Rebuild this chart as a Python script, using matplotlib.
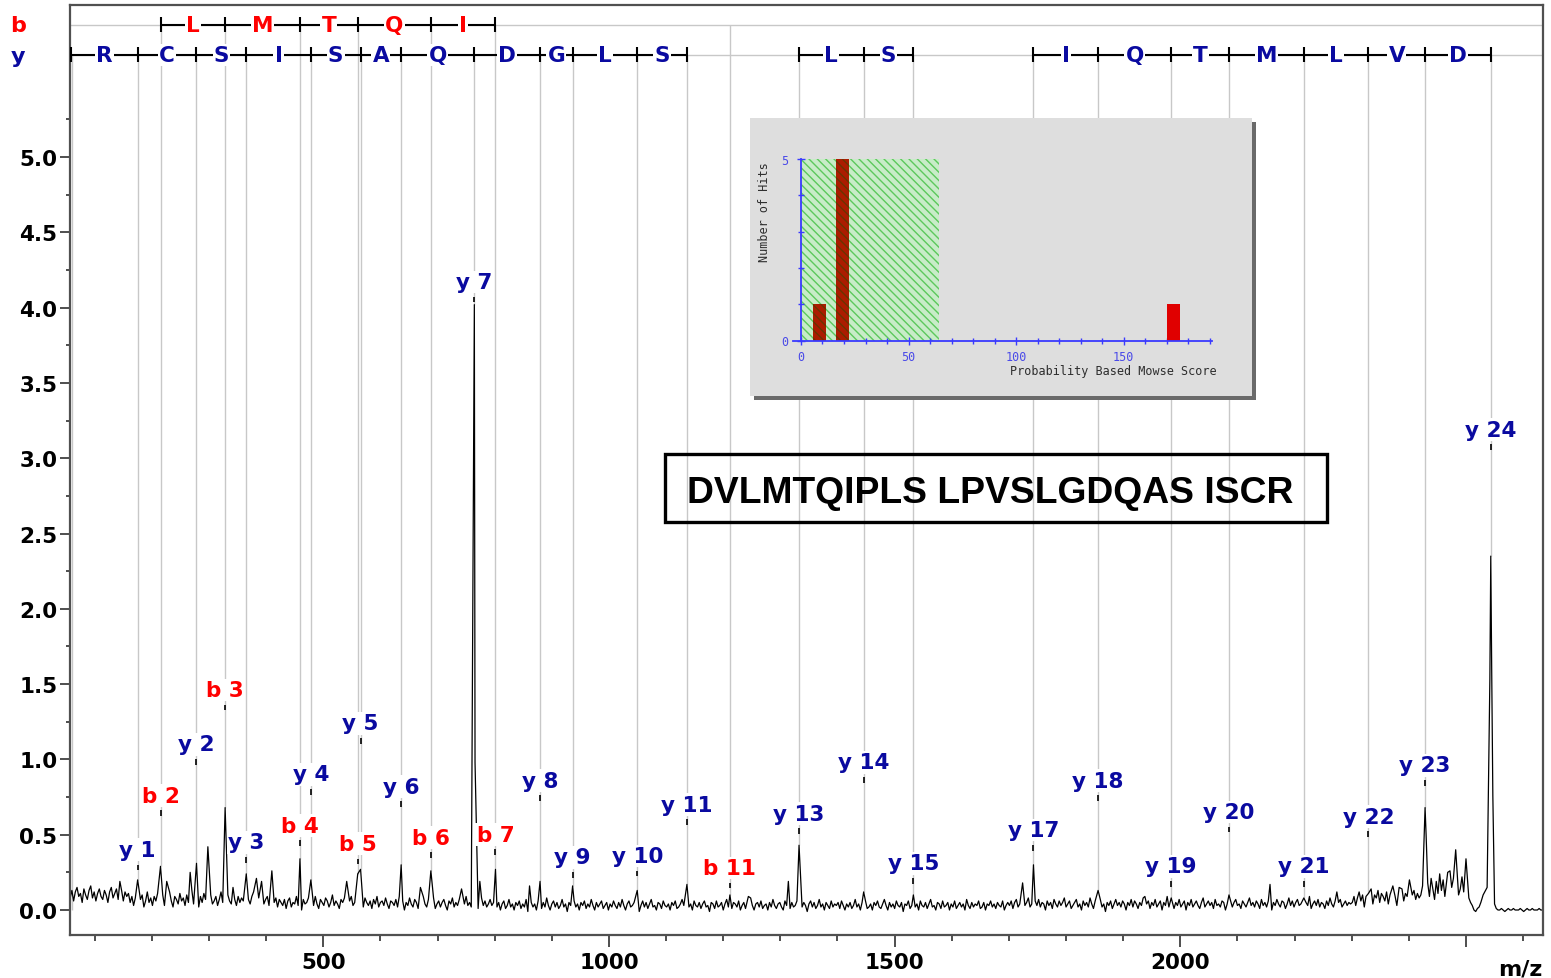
import numpy as np
import matplotlib
matplotlib.use("Agg")
import matplotlib.pyplot as plt
import matplotlib.transforms as mtransforms
from matplotlib.patches import Rectangle
from matplotlib.ticker import MultipleLocator, FixedLocator

plt.rcParams['font.family'] = ['DejaVu Sans']
plt.rcParams['hatch.linewidth'] = 1.0

W, H = 1551, 979

sequence = "DVLMTQIPLSLPVSLGDQASISCR"
shown_sequence = "DVLMTQIPLS LPVSLGDQAS ISCR"

# matched b ions: ion number, m/z, intensity, label height
b_num = [2, 3, 4, 5, 6, 7, 11]
b_mz = [215.1, 328.2, 459.2, 560.3, 688.3, 801.4, 1211.7]
b_int = [0.29, 0.68, 0.34, 0.24, 0.26, 0.27, 0.10]
b_lab = [0.76, 1.46, 0.56, 0.44, 0.48, 0.50, 0.28]

# matched y ions
y_num = [1, 2, 3, 4, 5, 6, 7, 8, 9, 10, 11, 13, 14, 15,
         17, 18, 19, 20, 21, 22, 23, 24]
y_mz = [175.1, 278.1, 365.2, 478.3, 565.3, 636.3, 764.4, 879.4, 936.4,
        1049.5, 1136.5, 1332.7, 1445.8, 1532.8, 1743.0, 1856.1, 1984.1,
        2085.2, 2216.2, 2329.3, 2428.4, 2543.4]
y_int = [0.20, 0.31, 0.24, 0.20, 0.27, 0.30, 4.02, 0.19, 0.16, 0.13, 0.17,
         0.43, 0.12, 0.10, 0.30, 0.13, 0.08, 0.10, 0.08, 0.11, 0.68, 2.35]
y_lab = [0.40, 1.10, 0.45, 0.90, 1.24, 0.82, 4.17, 0.86, 0.35, 0.36, 0.70,
         0.64, 0.98, 0.31, 0.53, 0.86, 0.29, 0.65, 0.29, 0.62, 0.96, 3.19]

# unassigned peaks and peak shoulders
other_mz = [144, 226, 267, 298, 342, 383, 392, 410, 541, 670, 742, 774,
            861, 1244, 1314, 1724, 1938, 2157, 2274, 2372, 2383, 2401,
            2439, 2468, 2482, 2500, 2530, 2537, 765.6, 2430.2,
            2541.8, 2545.0, 2547.0, 2550.0]
other_int = [0.19, 0.19, 0.25, 0.42, 0.15, 0.21, 0.19, 0.26, 0.19, 0.15,
             0.14, 0.19, 0.16, 0.09, 0.19, 0.18, 0.09, 0.17, 0.12, 0.16,
             0.15, 0.20, 0.21, 0.25, 0.40, 0.34, 0.10, 0.15, 0.98, 0.50,
             1.53, 1.60, 0.76, 0.04]

# noise floor, intensity x100, sampled every 3 m/z from 57
base_start, base_step = 57, 3
baseline = [
    # 57-159
    8, 13, 6, 12, 15, 9, 11, 5, 14, 10, 7, 13, 16, 8, 12, 6, 11, 14,
    9, 7, 13, 10, 5, 12, 15, 8, 11, 14, 7, 10, 13, 6, 12, 9, 11,
    # 162-426
    5, 9, 3, 8, 11, 4, 7, 10, 2, 6, 12, 5, 8, 3, 9, 6, 11, 4, 7, 10,
    3, 8, 5, 12, 6, 2, 9, 7, 4, 11, 6, 8, 3, 10, 5, 7, 13, 4, 8, 6,
    2, 9, 5, 11, 7, 3, 8, 10, 4, 6, 9, 3, 7, 12, 5, 8, 2, 10, 6, 4,
    11, 7, 3, 9, 5, 8, 6, 10, 2, 7, 4, 9, 12, 5, 3, 8, 6, 11, 4, 7,
    9, 3, 6, 10, 5, 8, 2, 7, 5,
    # 429-801
    3, 7, 1, 6, 8, 2, 5, 4, 9, 3, 6, 0, 7, 4, 5, 8, 2, 6, 3, 9,
    4, 1, 7, 5, 3, 8, 6, 2, 5, 10, 3, 6, 4, 1, 7, 5, 8, 2, 4, 6,
    9, 3, 5, 0, 6, 4, 7, 2, 8, 5, 3, 6, 1, 7, 4, 9, 2, 5, 6, 3,
    8, 4, 1, 6, 5, 3, 7, 2, 9, 4, 6, 0, 5, 3, 8, 4, 2, 7, 5, 1,
    6, 3, 9, 4, 2, 7, 5, 3, 8, 1, 4, 6, 2, 5, 7, 3, 0, 6, 4, 8,
    2, 5, 3, 7, 1, 6, 4, 9, 3, 5, 2, 7, 4, 6, 1, 5, 8, 3, 6, 2,
    4, 7, 3, 5, 2,
    # 804-1698
    2, 5, 0, 4, 6, 1, 3, 7, 2, 4, 0, 5, 3, 6, 1, 4, 2, 7, -1, 3,
    5, 2, 4, 0, 6, 3, 1, 5, 2, 8, 3, 0, 4, 6, 2, 5, 1, 3, 7, 2,
    4, -1, 5, 3, 1, 6, 2, 4, 0, 5, 3, 6, 1, 4, 2, 7, 3, 0, 5, 2,
    4, 6, 1, 3, 5, 0, 4, 2, 6, 3, 1, 5, 2, 7, 3, 0, 4, 6, 2, 3,
    5, 1, 4, -1, 3, 6, 2, 5, 1, 4, 7, 2, 3, 0, 5, 4, 1, 6, 3, 2,
    4, 0, 5, 3, 6, 1, 2, 4, 7, 3, 1, 5, 2, 4, 0, 6, 3, 2, 5, 1,
    4, 6, 2, 3, -1, 5, 4, 1, 6, 2, 3, 5, 0, 4, 7, 2, 3, 1, 5, 4,
    2, 6, 0, 3, 5, 1, 4, 2, 8, 3, 0, 4, 5, 2, 6, 1, 3, 4, 0, 5,
    2, 7, 3, 1, 4, 5, 2, 0, 6, 3, 4, 1, 5, 2, 3, 6, 0, 4, 2, 5,
    3, -1, 4, 6, 2, 5, 1, 3, 7, 2, 4, 0, 5, 3, 1, 6, 2, 4, 3, 5,
    1, 6, 3, 0, 4, 2, 5, 1, 3, 7, 2, 4, 0, 5, 3, 6, 1, 2, 4, 0,
    5, 3, 6, 2, 1, 4, 7, 3, 0, 5, 2, 4, 1, 6, 3, 2, 5, -1, 4, 3,
    6, 1, 3, 5, 2, 4, 0, 6, 3, 2, 5, 1, 4, 7, 2, 3, 0, 5, 4, 1,
    6, 2, 3, 5, 0, 4, 2, 6, 1, 3, 5, 2, 4, 0, 7, 3, 1, 5, 2, 4,
    3, 6, 1, 2, 5, 0, 4, 3, 6, 2, 4, 1, 5, 3, 2, 6, 0, 3, 5,
    # 1701-2298
    3, 6, 1, 5, 7, 2, 4, 0, 6, 3, 5, 8, 2, 4, 1, 6, 3, 7, 2, 5,
    4, 0, 6, 3, 5, 1, 7, 4, 2, 6, 3, 5, 8, 2, 4, 6, 1, 3, 5, 7,
    2, 4, 0, 6, 3, 5, 2, 8, 4, 1, 6, 3, 5, 7, 2, 4, -1, 5, 3, 6,
    1, 4, 7, 3, 5, 2, 6, 4, 0, 5, 3, 7, 2, 6, 4, 1, 5, 3, 8, 2,
    4, 6, 1, 5, 3, 7, 2, 4, 6, 0, 5, 3, 9, 2, 4, 6, 1, 5, 3, 7,
    2, 4, 6, 0, 5, 3, 7, 2, 4, 6, 3, 1, 5, 8, 2, 4, 6, 3, 5, 1,
    7, 3, 4, 2, 6, 5, 0, 4, 3, 6, 2, 5, 7, 3, 4, 1, 6, 4, 2, 5,
    8, 3, 5, 2, 6, 4, 1, 7, 3, 5, 2, 6, 4, 0, 5, 3, 7, 4, 2, 6,
    5, 1, 4, 8, 3, 6, 2, 5, 7, 3, 4, 6, 2, 5, 3, 9, 1, 4, 6, 3,
    7, 2, 5, 4, 1, 6, 3, 8, 4, 2, 6, 3, 5, 7, 2, 4, 6, 3, 5, 4,
    # 2301-2418
    5, 9, 3, 8, 12, 6, 10, 2, 9, 11, 7, 14, 4, 10, 8, 13, 5, 11, 9, 6,
    12, 4, 10, 15, 7, 9, 3, 12, 8, 14, 6, 11, 9, 16, 5, 10, 13, 7, 11, 8,
    # 2421-2508
    10, 16, 8, 12, 18, 9, 22, 14, 7, 19, 11, 24, 13, 20, 9, 17, 12, 26,
    15, 21, 28, 16, 10, 14, 22, 12, 25, 18, 8, 5,
    # 2511-2550
    3, 0, -1, 1, 2, 5, 4, 8, 10, 14, 30, 40, 20, 6,
    # 2553-2637
    1, 0, 0, 1, 0, -1, 0, 1, 0, 0, 1, 0, 0, 0, 1, 0, -1, 0, 1, 0,
    0, 1, 0, 0, 0, 1, 0, 0, 1,
]

# Mowse score histogram
hit_score = [8.5, 19.4, 173.3]
hit_count = [1, 5, 1]
threshold = 64

x_min, x_max = 56.7, 2634.8
y_lo, y_hi = -0.166, 6.01
b_row, y_row = 5.88, 5.68

red = '#ff0000'
blue = '#0a0aa0'
grey = '#c8c8c8'


def fx(px):
    return px / W


def fy(py):
    return 1 - py / H


fig = plt.figure(figsize=(W / 100, H / 100), dpi=100)
ax = fig.add_axes([fx(70), fy(936), fx(1543) - fx(70), fy(6) - fy(936)])
ax.set_xlim(x_min, x_max)
ax.set_ylim(y_lo, y_hi)

# spectrum trace: noise floor plus the listed peaks
bx = base_start + base_step * np.arange(len(baseline))
by = np.array(baseline) / 100.0
pk_x = np.array(b_mz + y_mz + other_mz, dtype=float)
pk_y = np.array(b_int + y_int + other_int, dtype=float)
keep = np.min(np.abs(bx[:, None] - pk_x[None, :]), axis=1) > 2.5
tx = np.concatenate([bx[keep], pk_x])
ty = np.concatenate([by[keep], pk_y])
order = np.argsort(tx)
ax.plot(tx[order], ty[order], color='black', lw=0.9, zorder=2)

# ladder guide rows
for row in (b_row, y_row):
    ax.axhline(row, color=grey, lw=1.0, zorder=1)


# gray drop lines and ion labels
def annotate(mz, inten, lab, name, color, top):
    ax.vlines(mz, inten, top, color=grey, lw=1.0, zorder=1)
    ax.text(mz, lab, name, ha='center', va='center', color=color,
            fontsize=15.5, fontweight='bold', zorder=3,
            bbox=dict(facecolor='white', edgecolor='none', pad=1.0))
    ax.vlines(mz, lab - 0.135, lab - 0.098, color='black', lw=1.2, zorder=3)


for n, mz, inten, lab in zip(b_num, b_mz, b_int, b_lab):
    annotate(mz, inten, lab, f"b {n}", red, b_row)
for n, mz, inten, lab in zip(y_num, y_mz, y_int, y_lab):
    annotate(mz, inten, lab, f"y {n}", blue, y_row)
ax.vlines(x_min + 4, 0.0, y_row, color=grey, lw=1.0, zorder=1)


def ladder(pos, letters, row, color):
    ax.plot([pos[0], pos[-1]], [row, row], color='black', lw=1.5, zorder=4,
            solid_capstyle='butt')
    ax.vlines(pos, row - 0.05, row + 0.05, color='black', lw=1.5, zorder=4)
    for a, b, aa in zip(pos[:-1], pos[1:], letters):
        ax.text((a + b) / 2, row, aa, ha='center', va='center', color=color,
                fontsize=15.5, fontweight='bold', zorder=5,
                bbox=dict(facecolor='white', edgecolor='none', pad=0.8))


b_pos = dict(zip(b_num, b_mz))
y_pos = dict(zip(y_num, y_mz))
y_pos[0] = x_min + 1.5

b_run = list(range(2, 8))
ladder([b_pos[k] for k in b_run], [sequence[k - 1] for k in b_run[1:]],
       b_row, red)
for first, last in [(0, 11), (13, 15), (17, 24)]:
    run = list(range(first, last + 1))
    ladder([y_pos[k] for k in run], [sequence[-k] for k in run[1:]],
           y_row, blue)

row_tf = mtransforms.blended_transform_factory(fig.transFigure, ax.transData)
fig.text(fx(18), b_row, 'b', transform=row_tf, ha='center', va='center',
         color=red, fontsize=16, fontweight='bold')
fig.text(fx(18), y_row - 0.01, 'y', transform=row_tf, ha='center',
         va='center', color=blue, fontsize=16, fontweight='bold')

# axes styling
for sp in ax.spines.values():
    sp.set_color('#505050')
    sp.set_linewidth(1.6)
ax.set_xticks([500, 1000, 1500, 2000, 2500])
ax.set_xticklabels(['500', '1000', '1500', '2000', ''])
ax.xaxis.set_minor_locator(MultipleLocator(100))
ax.set_yticks(np.arange(0, 5.01, 0.5))
ax.set_yticklabels([f"{v:.1f}" for v in np.arange(0, 5.01, 0.5)])
ax.yaxis.set_minor_locator(FixedLocator(np.arange(0.25, 5.3, 0.5)))
ax.tick_params(axis='x', which='major', length=8.6, width=1.3,
               color='#404040', pad=4, labelsize=15.5)
ax.tick_params(axis='x', which='minor', length=4.5, width=1.3,
               color='#404040')
ax.tick_params(axis='y', which='major', length=7.2, width=1.3,
               color='#404040', pad=2, labelsize=15.5)
ax.tick_params(axis='y', which='minor', length=3.0, width=1.3,
               color='#404040')
for lbl in ax.get_xticklabels() + ax.get_yticklabels():
    lbl.set_fontweight('bold')
ax.text(1.0, -0.042, 'm/z', transform=ax.transAxes, ha='right',
        va='baseline', fontsize=16, fontweight='bold')

# peptide sequence box
fig.add_artist(Rectangle((fx(665), fy(523)), fx(1327) - fx(665),
                         fy(455) - fy(523), transform=fig.transFigure,
                         fill=False, edgecolor='black', lw=2.4, zorder=3))
fig.text(fx(990.5), fy(503), shown_sequence, ha='center', va='baseline',
         family='Liberation Sans', fontsize=26.8, fontweight='bold',
         zorder=3)

# score histogram panel
fig.add_artist(Rectangle((fx(754), fy(401)), fx(1256) - fx(754),
                         fy(123) - fy(401), transform=fig.transFigure,
                         facecolor='#6a6a6a', edgecolor='none', zorder=5))
fig.add_artist(Rectangle((fx(750), fy(397)), fx(1252) - fx(750),
                         fy(119) - fy(397), transform=fig.transFigure,
                         facecolor='#dedede', edgecolor='none', zorder=5.1))

iax = fig.add_axes([fx(793), fy(341.5), fx(1212) - fx(793),
                    fy(160) - fy(341.5)], zorder=6)
iax.set_facecolor('none')
iax.set_xlim(-3.7, 191)
iax.set_ylim(0, 5)
iax.add_patch(Rectangle((0, 0), threshold, 5, facecolor='#c8ecc8',
                        edgecolor='#5cc85c', hatch='\\\\\\\\', lw=0,
                        zorder=1))
inside = [s < threshold for s in hit_score]
iax.bar([s for s, k in zip(hit_score, inside) if k],
        [c for c, k in zip(hit_count, inside) if k], width=6,
        color='#ac1c00', edgecolor='#6a3400', hatch='\\\\\\\\', lw=0,
        zorder=2)
iax.bar([s for s, k in zip(hit_score, inside) if not k],
        [c for c, k in zip(hit_count, inside) if not k], width=6,
        color='#e00000', lw=0, zorder=2)
hist_blue = '#3a3aff'
for side in ('top', 'right'):
    iax.spines[side].set_visible(False)
for side in ('left', 'bottom'):
    iax.spines[side].set_color(hist_blue)
    iax.spines[side].set_linewidth(1.3)
iax.spines['left'].set_position(('data', 0))
iax.set_xticks([0, 50, 100, 150])
iax.xaxis.set_minor_locator(FixedLocator(np.arange(10, 191, 10)))
iax.set_yticks([0, 5])
iax.yaxis.set_minor_locator(FixedLocator([1, 2, 3, 4]))
iax.tick_params(which='both', direction='inout', color=hist_blue,
                width=1.0, labelcolor='#4a4ae8', labelsize=8.5)
iax.tick_params(which='major', length=6)
iax.tick_params(which='minor', length=5)
iax.tick_params(axis='y', pad=6)
for lbl in iax.get_xticklabels() + iax.get_yticklabels():
    lbl.set_family('DejaVu Sans Mono')
iax.text(1.012, -0.168, 'Probability Based Mowse Score',
         transform=iax.transAxes, ha='right', va='center',
         family='DejaVu Sans Mono', fontsize=8.5, color='#2e2e2e')
iax.text(-0.068, 0.713, 'Number of Hits', transform=iax.transAxes,
         rotation=90, ha='center', va='center',
         family='DejaVu Sans Mono', fontsize=8.5, color='#2e2e2e')

fig.savefig('out.png', dpi=100)
